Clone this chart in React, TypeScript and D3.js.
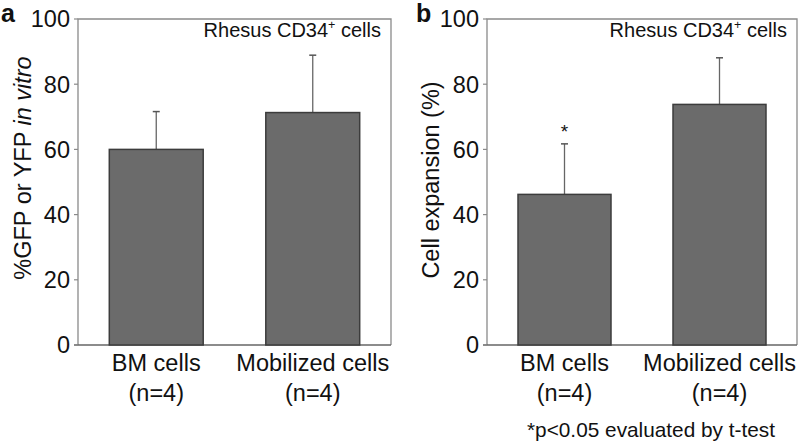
import React from "react";
import * as d3 from "d3";

const categories = ["BM cells", "Mobilized cells"];
const categorySub = ["(n=4)", "(n=4)"];
const yTicks = [0, 20, 40, 60, 80, 100];

const gfpMeans = [60.0, 71.3];
const gfpErrTop = [71.6, 88.9];

const expansionMeans = [46.2, 73.8];
const expansionErrTop = [61.7, 88.1];
const expansionStars = ["*", ""];

const panelLetters = ["a", "b"];
const yLabels = ["%GFP or YFP ", "Cell expansion (%)"];
const footnote = "*p<0.05 evaluated by t-test";

const FONT = "Liberation Sans, Arial, Helvetica, sans-serif";

type PanelProps = {
  x0: number;
  x1: number;
  means: number[];
  errTop: number[];
  stars?: string[];
  letter: string;
  letterX: number;
  yLabel: React.ReactNode;
  yLabelX: number;
  yLabelY: number;
};

function Panel({ x0, x1, means, errTop, stars, letter, letterX, yLabel, yLabelX, yLabelY }: PanelProps) {
  const top = 19;
  const bottom = 345;
  const y = d3.scaleLinear().domain([0, 100]).range([bottom, top]);
  const x = d3.scalePoint<string>().domain(categories).range([x0, x1]).padding(0.5);
  const bw = x.step() * 0.6;
  const axisColor = "#8a8a8a";
  return (
    <g fontFamily={FONT}>
      <path d={`M${x0},${bottom} V${top} H${x1} V${bottom}`} fill="none" stroke={axisColor} strokeWidth={1.3} />
      <line x1={x0 - 4} x2={x1} y1={bottom} y2={bottom} stroke="#666" strokeWidth={1.3} />
      {yTicks.map((t) => (
        <g key={t}>
          <line x1={x0 - 4} x2={x0} y1={y(t)} y2={y(t)} stroke={axisColor} strokeWidth={1.2} />
          <text x={x0 - 8} y={y(t)} dy="0.36em" textAnchor="end" fontSize={23.5} fill="#111">
            {t}
          </text>
        </g>
      ))}
      {categories.map((c, i) => {
        const cx = x(c)!;
        return (
          <g key={c}>
            <line x1={cx} x2={cx} y1={y(means[i])} y2={y(errTop[i])} stroke="#666" strokeWidth={1.3} />
            <line x1={cx - 3.5} x2={cx + 3.5} y1={y(errTop[i])} y2={y(errTop[i])} stroke="#555" strokeWidth={1.5} />
            <rect x={cx - bw / 2} y={y(means[i])} width={bw} height={bottom - y(means[i])} fill="#6b6b6b" stroke="#3c3c3c" strokeWidth={1.5} />
            {stars && stars[i] ? (
              <text x={cx} y={y(errTop[i]) - 6} textAnchor="middle" fontSize={19} fill="#111">
                {stars[i]}
              </text>
            ) : null}
            <text x={cx} y={371} textAnchor="middle" fontSize={23.5} fill="#111">
              {c}
            </text>
            <text x={cx} y={401} textAnchor="middle" fontSize={23.5} fill="#111">
              {categorySub[i]}
            </text>
          </g>
        );
      })}
      <text x={x1 - 10} y={37} textAnchor="end" fontSize={20} fill="#111">
        Rhesus CD34
        <tspan fontSize={12.5} dy={-8}>+</tspan>
        <tspan dy={8}> cells</tspan>
      </text>
      <text x={letterX} y={22} fontSize={25} fontWeight="bold" fill="#111">
        {letter}
      </text>
      <text transform={`translate(${yLabelX},${yLabelY}) rotate(-90)`} textAnchor="middle" fontSize={23.5} fill="#111">
        {yLabel}
      </text>
    </g>
  );
}

export default function App() {
  return (
    <svg width={800} height={443} style={{ position: "absolute", left: 0, top: 0, background: "#fff" }}>
      <rect width={800} height={443} fill="#fff" />
      <Panel
        x0={78}
        x1={391}
        means={gfpMeans}
        errTop={gfpErrTop}
        letter={panelLetters[0]}
        letterX={1}
        yLabel={
          <>
            {yLabels[0]}
            <tspan fontStyle="italic">in vitro</tspan>
          </>
        }
        yLabelX={31}
        yLabelY={168}
      />
      <Panel
        x0={487}
        x1={797}
        means={expansionMeans}
        errTop={expansionErrTop}
        stars={expansionStars}
        letter={panelLetters[1]}
        letterX={416}
        yLabel={yLabels[1]}
        yLabelX={439}
        yLabelY={180}
      />
      <text x={651} y={437} textAnchor="middle" fontSize={20.8} fontFamily={FONT} fill="#111">
        {footnote}
      </text>
    </svg>
  );
}
